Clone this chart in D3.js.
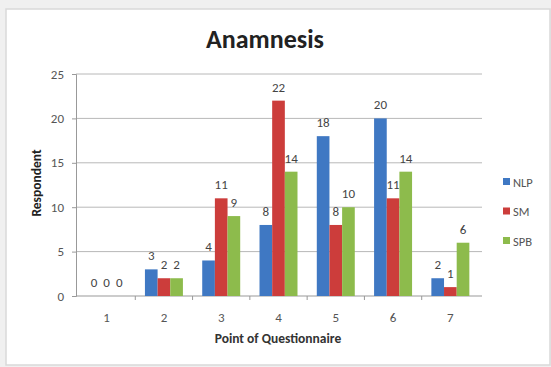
<!DOCTYPE html>
<html><head><meta charset="utf-8">
<script src="https://cdn.jsdelivr.net/npm/d3@7"></script>
<style>body{margin:0;background:#fff}svg{display:block}</style>
</head><body><svg id="c" width="551" height="367"></svg>
<script>
const categories = ["1","2","3","4","5","6","7"];
const seriesNames = ["NLP","SM","SPB"];
const nlp = [0,3,4,8,18,20,2];
const sm  = [0,2,11,22,8,11,1];
const spb = [0,2,9,14,10,14,6];
const yTicks = [0,5,10,15,20,25];
const colors = ["#3f78c3","#cc3d3b","#8dbb4c"];
const title = "Anamnesis";
const xLabel = "Point of Questionnaire";
const yLabel = "Respondent";

(function(){
const series = [nlp, sm, spb];
const svg = d3.select("#c");
const font = "Calibri, Carlito, 'Liberation Sans', Arial, sans-serif";

// frame
svg.append("rect").attr("x",0).attr("y",0).attr("width",551).attr("height",367).attr("fill","#f0f0f0");
svg.append("rect").attr("x",6).attr("y",9).attr("width",544).attr("height",356).attr("fill","#fff").attr("stroke","#d9d9d9").attr("stroke-width",1.5);

const pl = 78, pr = 479, pt = 74, pb = 296;
const x = d3.scaleBand().domain(categories).range([pl, pr]).paddingInner(0.337).paddingOuter(0.1685);
const xOuter = d3.scaleBand().domain(categories).range([pl, pr]);
const xs = d3.scaleBand().domain(seriesNames).range([0, x.bandwidth()]);
const y = d3.scaleLinear().domain([0,25]).range([pb, pt]);

// gridlines
svg.append("g").selectAll("line").data(yTicks.filter(d=>d>0)).join("line")
  .attr("x1",76).attr("x2",482).attr("y1",d=>y(d)).attr("y2",d=>y(d))
  .attr("stroke","#b8b8b8").attr("stroke-width",1);

// y axis
const yAxis = svg.append("g").attr("transform",`translate(76,0)`)
  .call(d3.axisLeft(y).tickValues(yTicks).tickSize(4).tickPadding(8));
yAxis.select(".domain").attr("stroke","#999");
yAxis.selectAll(".tick line").attr("stroke","#999");
yAxis.selectAll("text").attr("font-family",font).attr("font-size",13).attr("fill","#555");

// x axis
const xAxis = svg.append("g").attr("transform",`translate(0,${pb})`)
  .call(d3.axisBottom(xOuter).tickSize(0).tickPadding(17));
xAxis.select(".domain").attr("stroke","#999").attr("d","M76,0H482");
xAxis.selectAll("text").attr("font-family",font).attr("font-size",13).attr("fill","#555");
svg.append("g").selectAll("line").data(categories.slice(1)).join("line")
  .attr("x1",d=>xOuter(d)).attr("x2",d=>xOuter(d)).attr("y1",pb).attr("y2",pb+4)
  .attr("stroke","#999");

// bars
series.forEach((vals, si) => {
  const g = svg.append("g");
  g.selectAll("rect").data(vals).join("rect")
    .attr("x",(d,i)=>x(categories[i]) + xs(seriesNames[si]))
    .attr("width", xs.bandwidth())
    .attr("y", d=>y(d)).attr("height", d=>pb - y(d))
    .attr("fill", colors[si]);
  g.selectAll("text").data(vals).join("text")
    .attr("x",(d,i)=>x(categories[i]) + xs(seriesNames[si]) + xs.bandwidth()/2)
    .attr("y", d=>y(d) - 9)
    .attr("text-anchor","middle")
    .attr("font-family",font).attr("font-size",13).attr("fill","#444")
    .text(d=>d);
});

// title
svg.append("text").attr("x",265).attr("y",48).attr("text-anchor","middle")
  .attr("font-family",font).attr("font-size",26).attr("font-weight","bold").attr("fill","#222").text(title);
// axis titles
svg.append("text").attr("x",278).attr("y",343).attr("text-anchor","middle")
  .attr("font-family",font).attr("font-size",13.5).attr("font-weight","bold").attr("fill","#333").text(xLabel);
svg.append("text").attr("transform","translate(41,183) rotate(-90)").attr("text-anchor","middle")
  .attr("font-family",font).attr("font-size",13.5).attr("font-weight","bold").attr("fill","#222").text(yLabel);

// legend
const lg = svg.append("g");
seriesNames.forEach((n,i)=>{
  const ly = 182 + i*29.5;
  lg.append("rect").attr("x",503).attr("y",ly-4).attr("width",7).attr("height",7).attr("fill",colors[i]);
  lg.append("text").attr("x",513).attr("y",ly+4.5).attr("font-family",font).attr("font-size",12.5)
    .attr("fill","#555").text(n);
});
})();
</script></body></html>
